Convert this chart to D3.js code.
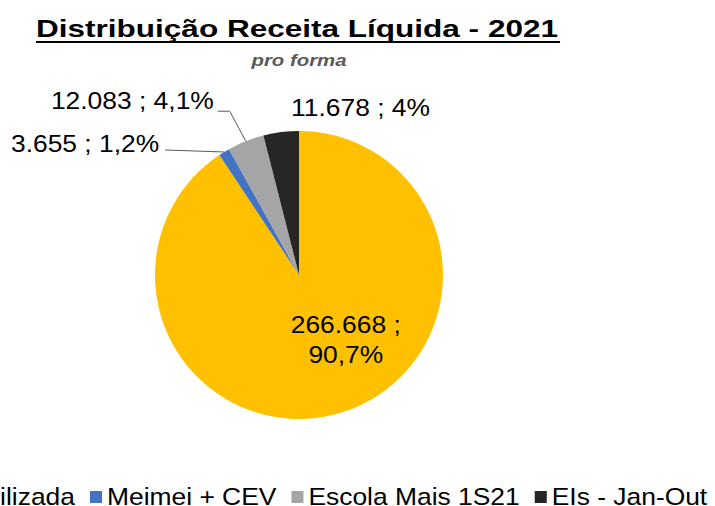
<!DOCTYPE html>
<html>
<head>
<meta charset="utf-8">
<script src="https://cdn.jsdelivr.net/npm/d3@7"></script>
<style>
  body { margin: 0; background: #fff; }
  svg { display: block; font-family: "Liberation Sans", Arial, sans-serif; }
</style>
</head>
<body>
<svg id="chart"></svg>
<script>
// dados
const categories = ["Vasta Contabilizada", "Meimei + CEV", "Escola Mais 1S21", "EIs - Jan-Out"];
const values = [266668, 3655, 12083, 11678];
const colors = ["#FFC000", "#4472C4", "#A5A5A5", "#262626"];
const title = "Distribuição Receita Líquida - 2021";
const subtitle = "pro forma";

const width = 715, height = 506;
const cx = 299, cy = 275, radius = 144;
const sx = 1.1; // texto do original é um pouco mais largo

const locale = d3.formatLocale({ decimal: ",", thousands: ".", grouping: [3], currency: ["R$", ""] });
const fmtValue = locale.format(",.0f");
const fmtPct = locale.format(".1~%");

const svg = d3.select("#chart")
  .attr("width", width)
  .attr("height", height)
  .attr("viewBox", [0, 0, width, height]);

// titulo
svg.append("text")
  .attr("x", cx - 2)
  .attr("y", 37)
  .attr("text-anchor", "middle")
  .attr("font-size", 24)
  .attr("font-weight", "bold")
  .attr("textLength", 522)
  .attr("lengthAdjust", "spacingAndGlyphs")
  .attr("fill", "#000")
  .text(title);

svg.append("rect")
  .attr("x", 36)
  .attr("y", 41)
  .attr("width", 524)
  .attr("height", 2)
  .attr("fill", "#000");

svg.append("text")
  .attr("x", cx)
  .attr("y", 66)
  .attr("text-anchor", "middle")
  .attr("font-size", 16)
  .attr("font-weight", "bold")
  .attr("font-style", "italic")
  .attr("textLength", 95)
  .attr("lengthAdjust", "spacingAndGlyphs")
  .attr("fill", "#595959")
  .text(subtitle);

// pizza
const total = d3.sum(values);
const pie = d3.pie().sort(null).value(d => d.value);
const data = categories.map((c, i) => ({ name: c, value: values[i], color: colors[i] }));
const arcs = pie(data);

const arc = d3.arc().innerRadius(0).outerRadius(radius);
const outer = d3.arc().innerRadius(radius).outerRadius(radius);

const g = svg.append("g").attr("transform", `translate(${cx},${cy})`);

g.selectAll("path")
  .data(arcs)
  .join("path")
  .attr("d", arc)
  .attr("fill", d => d.data.color);

// rótulos
const labelText = d => `${fmtValue(d.data.value)} ; ${fmtPct(d.data.value / total)}`;
const edge = d => outer.centroid(d);

// fatia grande: rótulo interno em duas linhas
const big = arcs[0];
const [bx, by] = arc.centroid(big);
const bigLabel = g.append("text")
  .attr("transform", `translate(${bx + 26},${by}) scale(${sx},1)`)
  .attr("text-anchor", "middle")
  .attr("font-size", 24)
  .attr("fill", "#000");
bigLabel.append("tspan").attr("x", 0).attr("y", -11).text(`${fmtValue(big.data.value)} ;`);
bigLabel.append("tspan").attr("x", 0).attr("y", 19).text(fmtPct(big.data.value / total));

// rótulos externos (deslocamento a partir da borda da fatia)
const outside = [
  { i: 1, dx: -65, dy: 0, anchor: "end", leader: "straight" },
  { i: 2, dx: -32, dy: -32, anchor: "end", leader: "elbow" },
  { i: 3, dx: 10, dy: -16, anchor: "start", leader: null }
];

outside.forEach(o => {
  const d = arcs[o.i];
  const [ex, ey] = edge(d);
  const lx = ex + o.dx, ly = ey + o.dy;
  g.append("text")
    .attr("transform", `translate(${lx},${ly}) scale(${sx},1)`)
    .attr("text-anchor", o.anchor)
    .attr("font-size", 24)
    .attr("fill", "#000")
    .text(labelText(d));
  if (o.leader === "straight") {
    g.append("path")
      .attr("d", d3.line()([[lx + 6, ly - 2], [ex, ey]]))
      .attr("fill", "none")
      .attr("stroke", "#595959")
      .attr("stroke-width", 1);
  } else if (o.leader === "elbow") {
    g.append("path")
      .attr("d", d3.line()([[lx + 4, ly + 2], [lx + 16, ly + 2], [ex, ey]]))
      .attr("fill", "none")
      .attr("stroke", "#595959")
      .attr("stroke-width", 1);
  }
});

// legenda
const legend = svg.append("g");
const items = legend.selectAll("g")
  .data(data)
  .join("g");

items.append("rect")
  .attr("width", 12)
  .attr("height", 12)
  .attr("fill", d => d.color);

items.append("text")
  .attr("font-size", 24)
  .attr("fill", "#000")
  .text(d => d.name);

const widths = items.select("text").nodes().map(n => n.getComputedTextLength() * sx);
let x = 75 - widths[0] - 17;
items.each(function (d, i) {
  const it = d3.select(this);
  it.select("rect").attr("x", x).attr("y", 491);
  it.select("text").attr("transform", `translate(${x + 17},505) scale(${sx},1)`);
  x += 17 + widths[i] + 15;
});
</script>
</body>
</html>
